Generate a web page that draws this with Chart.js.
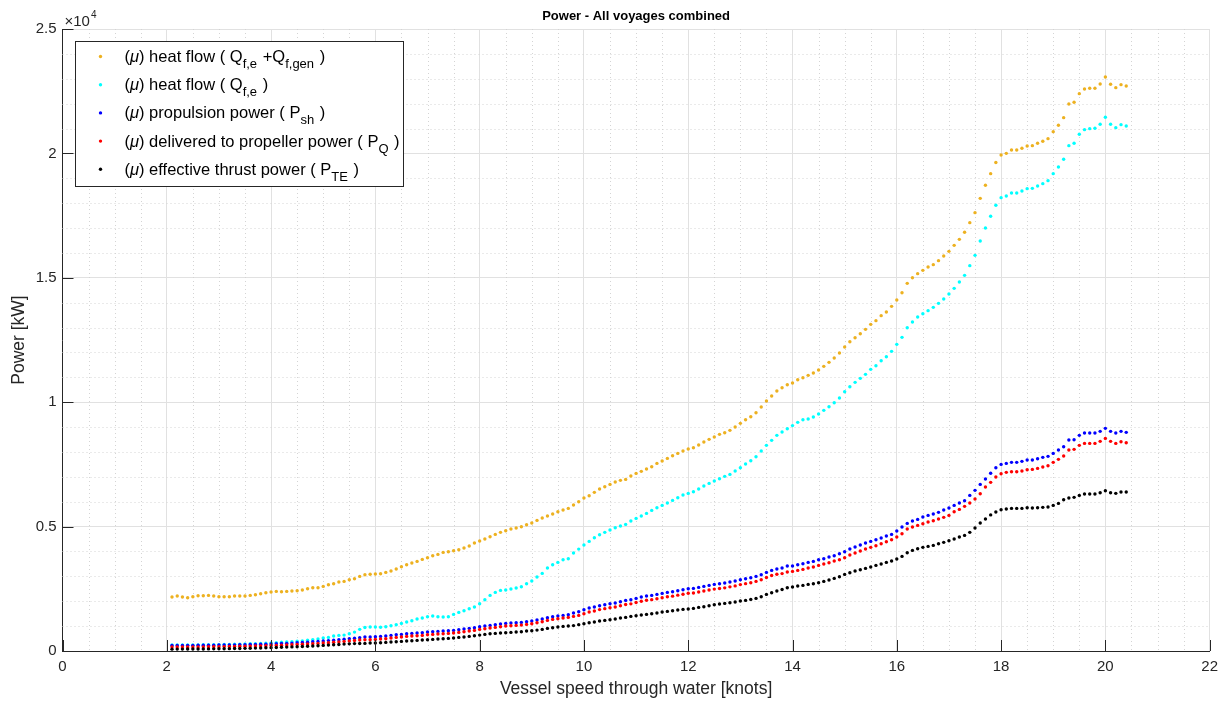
<!DOCTYPE html>
<html>
<head>
<meta charset="utf-8">
<title>Power - All voyages combined</title>
<script src="https://cdn.jsdelivr.net/npm/chart.js@4.4.1/dist/chart.umd.min.js"></script>
<style>
  html, body { margin: 0; padding: 0; background: #fff; }
  #chart { display: block; }
</style>
</head>
<body>
<canvas id="chart" width="1225" height="705"></canvas>
<script>
// Power vs speed, mean values per 0.1 knot bin
const speeds = [
  2.1, 2.2, 2.3, 2.4, 2.5, 2.6, 2.7, 2.8, 2.9,
  3.0, 3.1, 3.2, 3.3, 3.4, 3.5, 3.6, 3.7, 3.8, 3.9,
  4.0, 4.1, 4.2, 4.3, 4.4, 4.5, 4.6, 4.7, 4.8, 4.9,
  5.0, 5.1, 5.2, 5.3, 5.4, 5.5, 5.6, 5.7, 5.8, 5.9,
  6.0, 6.1, 6.2, 6.3, 6.4, 6.5, 6.6, 6.7, 6.8, 6.9,
  7.0, 7.1, 7.2, 7.3, 7.4, 7.5, 7.6, 7.7, 7.8, 7.9,
  8.0, 8.1, 8.2, 8.3, 8.4, 8.5, 8.6, 8.7, 8.8, 8.9,
  9.0, 9.1, 9.2, 9.3, 9.4, 9.5, 9.6, 9.7, 9.8, 9.9,
  10.0, 10.1, 10.2, 10.3, 10.4, 10.5, 10.6, 10.7, 10.8, 10.9,
  11.0, 11.1, 11.2, 11.3, 11.4, 11.5, 11.6, 11.7, 11.8, 11.9,
  12.0, 12.1, 12.2, 12.3, 12.4, 12.5, 12.6, 12.7, 12.8, 12.9,
  13.0, 13.1, 13.2, 13.3, 13.4, 13.5, 13.6, 13.7, 13.8, 13.9,
  14.0, 14.1, 14.2, 14.3, 14.4, 14.5, 14.6, 14.7, 14.8, 14.9,
  15.0, 15.1, 15.2, 15.3, 15.4, 15.5, 15.6, 15.7, 15.8, 15.9,
  16.0, 16.1, 16.2, 16.3, 16.4, 16.5, 16.6, 16.7, 16.8, 16.9,
  17.0, 17.1, 17.2, 17.3, 17.4, 17.5, 17.6, 17.7, 17.8, 17.9,
  18.0, 18.1, 18.2, 18.3, 18.4, 18.5, 18.6, 18.7, 18.8, 18.9,
  19.0, 19.1, 19.2, 19.3, 19.4, 19.5, 19.6, 19.7, 19.8, 19.9,
  20.0, 20.1, 20.2, 20.3, 20.4
];

// heat flow Q_f,e + Q_f,gen [kW]
const heatFlowTotal = [
  2168, 2208, 2168, 2141, 2181, 2221, 2221, 2235, 2208,
  2181, 2181, 2181, 2208, 2208, 2208, 2235, 2262, 2302, 2342,
  2369, 2396, 2382, 2396, 2409, 2423, 2449, 2503, 2543, 2543,
  2597, 2664, 2704, 2771, 2798, 2865, 2905, 2999, 3065, 3086,
  3093, 3106, 3160, 3213, 3294, 3387, 3468, 3535, 3602, 3682,
  3749, 3830, 3883, 3964, 3990, 4031, 4071, 4138, 4218, 4339,
  4419, 4500, 4593, 4687, 4768, 4835, 4902, 4942, 4995, 5076,
  5143, 5250, 5344, 5424, 5505, 5598, 5665, 5732, 5870, 6000,
  6148, 6242, 6376, 6510, 6603, 6697, 6791, 6858, 6898, 7032,
  7139, 7220, 7314, 7407, 7541, 7635, 7742, 7850, 7943, 8037,
  8118, 8171, 8278, 8399, 8506, 8600, 8707, 8774, 8868, 9002,
  9149, 9297, 9417, 9578, 9806, 10047, 10248, 10449, 10580, 10704,
  10771, 10905, 10985, 11079, 11173, 11293, 11441, 11602, 11776, 11977,
  12218, 12432, 12593, 12754, 12928, 13129, 13277, 13478, 13625, 13853,
  14107, 14402, 14777, 15005, 15166, 15300, 15434, 15528, 15689, 15876,
  16064, 16305, 16546, 16828, 17216, 17618, 18194, 18717, 19186, 19635,
  19936, 20003, 20137, 20137, 20204, 20298, 20312, 20405, 20486, 20593,
  20874, 21129, 21437, 21987, 22054, 22402, 22590, 22616, 22616, 22791,
  23072, 22777, 22643, 22764, 22710
];

// heat flow Q_f,e [kW]
const heatFlowEngine = [
  240, 241, 242, 243, 245, 247, 249, 252, 255,
  258, 262, 266, 271, 276, 282, 289, 297, 306, 316,
  327, 338, 350, 363, 377, 392, 408, 430, 453, 480,
  520, 547, 600, 627, 640, 694, 760, 870, 945, 962,
  962, 955, 975, 1016, 1056, 1109, 1163, 1217, 1284, 1324,
  1377, 1404, 1377, 1364, 1377, 1471, 1552, 1619, 1699, 1766,
  1900, 2061, 2235, 2356, 2436, 2449, 2490, 2530, 2583, 2704,
  2811, 2972, 3119, 3334, 3468, 3562, 3669, 3709, 3937, 4095,
  4258, 4406, 4553, 4674, 4768, 4861, 4955, 5022, 5089, 5223,
  5330, 5424, 5531, 5652, 5759, 5853, 5947, 6054, 6161, 6268,
  6335, 6402, 6510, 6630, 6737, 6831, 6925, 7019, 7099, 7233,
  7367, 7515, 7649, 7809, 8037, 8265, 8466, 8667, 8801, 8930,
  9060, 9190, 9297, 9324, 9404, 9525, 9672, 9819, 9980, 10168,
  10422, 10623, 10798, 10958, 11119, 11320, 11468, 11669, 11829, 12044,
  12325, 12607, 12995, 13223, 13424, 13558, 13679, 13813, 13973, 14148,
  14349, 14576, 14831, 15099, 15488, 15903, 16479, 17002, 17471, 17913,
  18221, 18288, 18409, 18409, 18489, 18583, 18596, 18690, 18784, 18905,
  19186, 19454, 19762, 20312, 20405, 20767, 20955, 20995, 21008, 21169,
  21450, 21169, 21035, 21156, 21102
];

// propulsion power P_sh [kW]
const propulsionPower = [
  225, 226, 226, 227, 228, 230, 232, 234, 236,
  239, 242, 245, 248, 252, 256, 260, 265, 270, 276,
  283, 291, 299, 308, 318, 330, 342, 356, 370, 385,
  401, 418, 436, 455, 475, 495, 515, 537, 560, 560,
  573, 587, 600, 627, 654, 667, 694, 707, 721, 734,
  761, 774, 788, 801, 815, 828, 855, 882, 908, 935,
  975, 1002, 1029, 1056, 1083, 1109, 1123, 1136, 1150, 1176,
  1203, 1243, 1284, 1337, 1377, 1404, 1431, 1458, 1530, 1580,
  1659, 1726, 1766, 1820, 1860, 1900, 1927, 1980, 2034, 2061,
  2114, 2168, 2208, 2235, 2275, 2315, 2356, 2382, 2423, 2463,
  2503, 2516, 2557, 2597, 2637, 2677, 2704, 2731, 2771, 2811,
  2865, 2905, 2945, 2999, 3066, 3160, 3240, 3294, 3334, 3414,
  3414, 3468, 3508, 3562, 3602, 3669, 3709, 3776, 3830, 3910,
  3990, 4098, 4178, 4258, 4339, 4406, 4473, 4540, 4620, 4687,
  4821, 4982, 5129, 5223, 5290, 5384, 5451, 5505, 5572, 5665,
  5746, 5853, 5947, 6041, 6255, 6456, 6697, 6912, 7146, 7367,
  7501, 7541, 7582, 7582, 7622, 7675, 7675, 7729, 7783, 7823,
  7943, 8077, 8211, 8479, 8493, 8667, 8761, 8761, 8761, 8828,
  8949, 8828, 8761, 8828, 8788
];

// delivered to propeller power P_Q [kW]
const deliveredPower = [
  160, 161, 161, 162, 163, 165, 167, 169, 171,
  174, 177, 180, 184, 188, 192, 197, 202, 207, 213,
  219, 226, 233, 241, 250, 260, 270, 281, 293, 306,
  320, 335, 351, 368, 386, 405, 424, 441, 453, 453,
  466, 480, 493, 520, 547, 560, 587, 600, 614, 627,
  654, 667, 681, 694, 707, 721, 748, 774, 801, 828,
  868, 895, 922, 949, 975, 1002, 1016, 1029, 1042, 1069,
  1096, 1136, 1176, 1230, 1270, 1297, 1324, 1351, 1391, 1430,
  1500, 1570, 1610, 1664, 1702, 1741, 1767, 1818, 1871, 1896,
  1948, 2000, 2039, 2064, 2103, 2141, 2181, 2205, 2245, 2283,
  2322, 2333, 2373, 2411, 2450, 2488, 2514, 2539, 2578, 2616,
  2669, 2707, 2746, 2798, 2864, 2956, 3034, 3087, 3110, 3173,
  3200, 3240, 3280, 3334, 3374, 3441, 3495, 3548, 3615, 3669,
  3749, 3856, 3937, 4017, 4098, 4165, 4232, 4312, 4392, 4473,
  4580, 4714, 4902, 4982, 5049, 5116, 5183, 5237, 5304, 5371,
  5451, 5598, 5692, 5813, 5947, 6108, 6322, 6590, 6778, 6992,
  7126, 7180, 7206, 7206, 7233, 7287, 7300, 7340, 7394, 7448,
  7582, 7702, 7836, 8077, 8104, 8265, 8345, 8345, 8345, 8426,
  8546, 8426, 8345, 8412, 8372
];

// effective thrust power P_TE [kW]
const thrustPower = [
  75, 76, 77, 78, 79, 80, 82, 84, 86,
  89, 92, 95, 99, 103, 107, 112, 117, 122, 128,
  134, 141, 148, 156, 164, 173, 182, 192, 203, 214,
  226, 238, 251, 264, 277, 288, 297, 302, 305, 319,
  319, 332, 346, 359, 372, 386, 399, 413, 426, 440,
  453, 466, 480, 493, 506, 520, 547, 560, 587, 614,
  640, 667, 694, 707, 721, 734, 748, 761, 774, 801,
  815, 841, 868, 908, 935, 962, 989, 1002, 1020, 1060,
  1096, 1136, 1163, 1203, 1230, 1257, 1284, 1324, 1351, 1391,
  1418, 1444, 1471, 1498, 1525, 1565, 1592, 1619, 1645, 1672,
  1686, 1712, 1753, 1779, 1820, 1860, 1887, 1913, 1940, 1967,
  2007, 2034, 2074, 2114, 2181, 2275, 2342, 2409, 2470, 2543,
  2570, 2610, 2637, 2677, 2704, 2744, 2798, 2851, 2918, 2985,
  3079, 3146, 3213, 3267, 3320, 3374, 3441, 3495, 3562, 3615,
  3696, 3803, 3950, 4044, 4111, 4165, 4205, 4245, 4312, 4366,
  4433, 4500, 4580, 4647, 4768, 4942, 5143, 5304, 5470, 5585,
  5679, 5706, 5732, 5732, 5732, 5759, 5746, 5759, 5773, 5786,
  5853, 5933, 6081, 6148, 6175, 6255, 6309, 6309, 6309, 6362,
  6443, 6362, 6336, 6389, 6389
];

const xTicks = [0, 2, 4, 6, 8, 10, 12, 14, 16, 18, 20, 22];
const yTicks = [0, 5000, 10000, 15000, 20000, 25000];

const seriesColors = ['#EDB120', '#00FFFF', '#0000FF', '#FF0000', '#000000'];
const seriesValues = [heatFlowTotal, heatFlowEngine, propulsionPower, deliveredPower, thrustPower];

const chartTitle = 'Power - All voyages combined';

// legend text pieces: [text, style] with style '' normal, 'i' italic, 's' subscript
const legendLabels = [
  [['(', ''], ['\u03bc', 'i'], [') heat flow ( Q', ''], ['f,e', 's'], [' +Q', ''], ['f,gen', 's'], [' )', '']],
  [['(', ''], ['\u03bc', 'i'], [') heat flow ( Q', ''], ['f,e', 's'], [' )', '']],
  [['(', ''], ['\u03bc', 'i'], [') propulsion power ( P', ''], ['sh', 's'], [' )', '']],
  [['(', ''], ['\u03bc', 'i'], [') delivered to propeller power ( P', ''], ['Q', 's'], [' )', '']],
  [['(', ''], ['\u03bc', 'i'], [') effective thrust power ( P', ''], ['TE', 's'], [' )', '']]
];

const FONT = "'Liberation Sans', Arial, Helvetica, sans-serif";
const AXIS_COLOR = '#262626';
Chart.defaults.font.family = FONT;

// minor grid, inward tick marks, title over the axes, exponent label and the legend box
const matlabAxes = {
  id: 'matlabAxes',
  beforeDatasetsDraw(chart) {
    const { ctx, chartArea: a, scales: { x, y } } = chart;
    ctx.save();
    ctx.strokeStyle = '#d4d4d4';
    ctx.lineWidth = 1;
    ctx.setLineDash([1, 3]);
    for (let v = 0.5; v < 22; v += 0.5) {
      if (v % 2 === 0) continue;
      const px = Math.round(x.getPixelForValue(v)) + 0.5;
      ctx.beginPath(); ctx.moveTo(px, a.top); ctx.lineTo(px, a.bottom); ctx.stroke();
    }
    for (let v = 1000; v < 25000; v += 1000) {
      if (v % 5000 === 0) continue;
      const py = Math.round(y.getPixelForValue(v)) + 0.5;
      ctx.beginPath(); ctx.moveTo(a.left, py); ctx.lineTo(a.right, py); ctx.stroke();
    }
    ctx.restore();
  },
  afterDraw(chart) {
    const { ctx, chartArea: a, scales: { x, y } } = chart;
    ctx.save();
    // ticks pointing inwards
    ctx.strokeStyle = AXIS_COLOR;
    ctx.lineWidth = 1;
    xTicks.forEach(t => {
      const px = Math.round(x.getPixelForValue(t)) + 0.5;
      ctx.beginPath(); ctx.moveTo(px, a.bottom); ctx.lineTo(px, a.bottom - 11); ctx.stroke();
    });
    yTicks.forEach(t => {
      const py = Math.round(y.getPixelForValue(t)) + 0.5;
      ctx.beginPath(); ctx.moveTo(a.left, py); ctx.lineTo(a.left + 11, py); ctx.stroke();
    });

    // title centred over the axes
    ctx.fillStyle = '#000';
    ctx.font = 'bold 13px ' + FONT;
    ctx.textAlign = 'center';
    ctx.textBaseline = 'middle';
    ctx.fillText(chartTitle, (a.left + a.right) / 2, 16);
    ctx.textAlign = 'left';

    // x10^4 multiplier
    ctx.fillStyle = AXIS_COLOR;
    ctx.textBaseline = 'alphabetic';
    ctx.font = '15px ' + FONT;
    ctx.fillText('\u00d710', a.left + 2, a.top - 3);
    const w = ctx.measureText('\u00d710').width;
    ctx.font = '10px ' + FONT;
    ctx.fillText('4', a.left + 3 + w, a.top - 11);

    // legend
    const box = { x: 75.5, y: 41.5, w: 328, h: 145 };
    ctx.fillStyle = '#fff';
    ctx.fillRect(box.x, box.y, box.w, box.h);
    ctx.strokeStyle = AXIS_COLOR;
    ctx.strokeRect(box.x, box.y, box.w, box.h);
    const rowGap = 28.2;
    legendLabels.forEach((parts, i) => {
      const cy = box.y + 15 + i * rowGap;
      ctx.fillStyle = seriesColors[i];
      ctx.beginPath(); ctx.arc(box.x + 25, cy, 1.7, 0, Math.PI * 2); ctx.fill();
      let tx = box.x + 49;
      ctx.fillStyle = '#000';
      parts.forEach(([txt, st]) => {
        let yy = cy + 5.5;
        if (st === 's') { ctx.font = '13px ' + FONT; yy = cy + 11.5; }
        else if (st === 'i') ctx.font = 'italic 16.5px ' + FONT;
        else ctx.font = '16.5px ' + FONT;
        ctx.fillText(txt, tx, yy);
        tx += ctx.measureText(txt).width + (st === 's' ? 1 : 0);
      });
    });
    ctx.restore();
  }
};

const ctx = document.getElementById('chart').getContext('2d');
new Chart(ctx, {
  type: 'scatter',
  data: {
    datasets: seriesValues.map((vals, i) => ({
      label: legendLabels[i].map(p => p[0]).join(''),
      data: speeds.map((s, k) => ({ x: s, y: vals[k] })),
      backgroundColor: seriesColors[i],
      borderWidth: 0,
      pointRadius: 1.7,
      pointHoverRadius: 1.7,
      order: 5 - i
    }))
  },
  options: {
    responsive: false,
    animation: false,
    devicePixelRatio: 1,
    layout: { padding: { left: 0, right: 15, top: 29, bottom: 0 } },
    plugins: {
      legend: { display: false },
      tooltip: { enabled: false },
      title: { display: false }
    },
    scales: {
      x: {
        type: 'linear',
        min: 0,
        max: 22,
        afterFit: s => { s.height = 54; },
        afterBuildTicks: s => { s.ticks = xTicks.map(v => ({ value: v })); },
        ticks: { color: AXIS_COLOR, font: { size: 15 }, padding: 7, maxRotation: 0, autoSkip: false },
        grid: { color: '#e1e1e1', drawTicks: false },
        border: { display: true, color: AXIS_COLOR },
        title: {
          display: true,
          text: 'Vessel speed through water [knots]',
          color: AXIS_COLOR,
          font: { size: 17.5 },
          padding: { top: 0, bottom: 5 }
        }
      },
      y: {
        type: 'linear',
        min: 0,
        max: 25000,
        afterFit: s => { s.width = 62.5; },
        afterBuildTicks: s => { s.ticks = yTicks.map(v => ({ value: v })); },
        ticks: { color: AXIS_COLOR, font: { size: 15 }, padding: 6, callback: v => String(v / 10000) },
        grid: { color: '#e1e1e1', drawTicks: false },
        border: { display: true, color: AXIS_COLOR },
        title: {
          display: true,
          text: 'Power [kW]',
          color: AXIS_COLOR,
          font: { size: 17.5 },
          padding: { top: 9, bottom: 0 }
        }
      }
    }
  },
  plugins: [matlabAxes]
});
</script>
</body>
</html>
